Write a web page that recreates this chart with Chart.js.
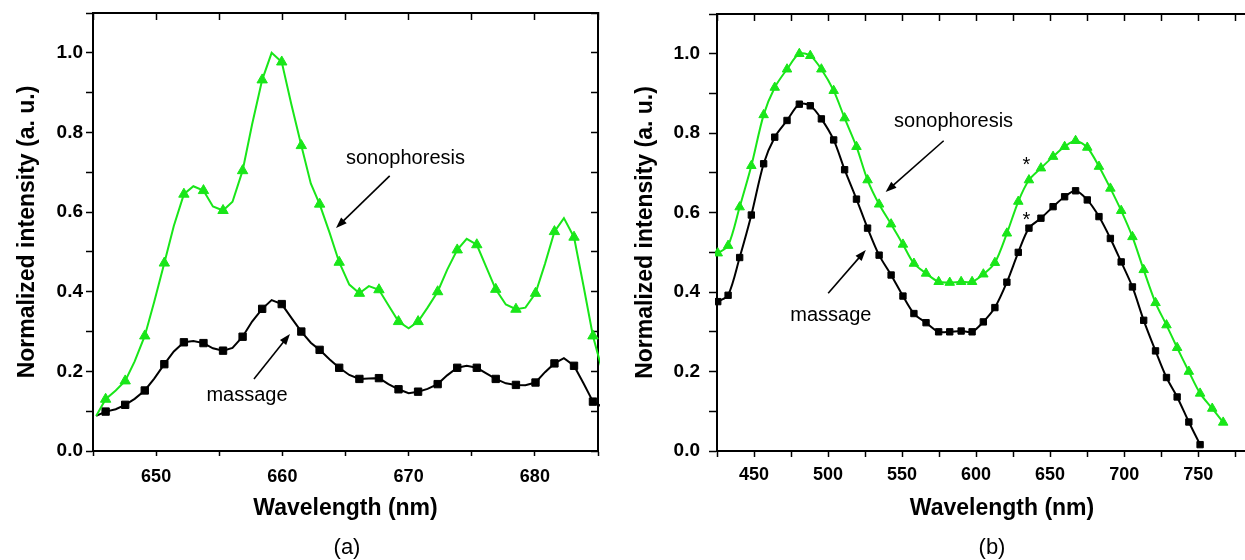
<!DOCTYPE html>
<html>
<head>
<meta charset="utf-8">
<script src="https://cdn.jsdelivr.net/npm/chart.js@4.4.1/dist/chart.umd.min.js"></script>
<style>
    body { margin: 0; width: 1245px; height: 560px; overflow: hidden; background: #fff; position: relative; font-family: 'Liberation Sans', Arial, sans-serif; }
    canvas { position: absolute; top: 0; }
    #chartA { left: 0; }
    #chartB { left: 620px; }
    .panel-tag { position: absolute; font-size: 22px; transform: translate(-50%, -50%); color: #000; }
</style>
</head>
<body>
<canvas id="chartA" width="620" height="560"></canvas>
<canvas id="chartB" width="690" height="560"></canvas>
<div class="panel-tag" style="left:347px; top:547px;">(a)</div>
<div class="panel-tag" style="left:992px; top:547px;">(b)</div>
<script>
// Panel (a): line vertices, a marker sits on every odd index
const wavelengthA = [645.25, 646.0, 646.8, 647.55, 648.3, 649.1, 649.85, 650.65, 651.4, 652.2,
    652.95, 653.75, 654.5, 655.3, 656.05, 656.85, 657.6, 658.4, 659.15, 659.95,
    660.7, 661.5, 662.25, 662.95, 663.75, 664.5, 665.3, 666.1, 666.85, 667.65,
    668.4, 669.2, 670.0, 670.75, 671.5, 672.3, 673.05, 673.85, 674.6, 675.4,
    676.15, 676.9, 677.7, 678.5, 679.25, 680.05, 680.8, 681.55, 682.3, 683.1,
    683.85, 684.6, 685.4];
const sonophoresisA = [0.088, 0.130, 0.152, 0.176, 0.225, 0.289, 0.375, 0.472, 0.565, 0.645,
    0.665, 0.654, 0.614, 0.604, 0.626, 0.704, 0.820, 0.932, 1.000, 0.977,
    0.872, 0.767, 0.672, 0.620, 0.547, 0.474, 0.418, 0.396, 0.414, 0.405,
    0.366, 0.325, 0.308, 0.325, 0.360, 0.400, 0.455, 0.505, 0.533, 0.518,
    0.462, 0.406, 0.368, 0.356, 0.360, 0.396, 0.470, 0.551, 0.585, 0.537,
    0.415, 0.289, 0.195];
const massageA = [0.088, 0.099, 0.105, 0.116, 0.131, 0.152, 0.182, 0.218, 0.250, 0.273,
    0.276, 0.271, 0.258, 0.252, 0.259, 0.287, 0.325, 0.357, 0.379, 0.369,
    0.335, 0.300, 0.272, 0.254, 0.230, 0.209, 0.191, 0.181, 0.182, 0.183,
    0.168, 0.155, 0.145, 0.149, 0.156, 0.168, 0.190, 0.209, 0.214, 0.209,
    0.195, 0.181, 0.170, 0.166, 0.165, 0.172, 0.198, 0.220, 0.233, 0.214,
    0.170, 0.124, 0.110];

// Panel (b)
const wavelengthB = [425.5, 432.5, 440.3, 448.2, 456.5, 464.0, 472.3, 480.6, 488.0, 495.5,
    503.8, 511.2, 519.2, 526.7, 534.5, 542.6, 550.6, 558.0, 566.2, 574.7,
    582.2, 589.9, 597.3, 604.9, 612.7, 620.8, 628.5, 635.7, 643.8, 652.0,
    659.8, 667.2, 675.1, 683.0, 690.7, 698.0, 705.6, 713.2, 721.2, 728.6,
    735.8, 743.7, 751.3, 759.5, 766.9];
const sonophoresisB = [0.498, 0.517, 0.614, 0.718, 0.846, 0.915, 0.961, 1.000, 0.995, 0.961,
    0.907, 0.838, 0.766, 0.682, 0.621, 0.571, 0.520, 0.472, 0.447, 0.426,
    0.424, 0.426, 0.426, 0.445, 0.474, 0.548, 0.628, 0.682, 0.712, 0.741,
    0.766, 0.781, 0.764, 0.716, 0.661, 0.605, 0.539, 0.456, 0.373, 0.317,
    0.260, 0.200, 0.145, 0.107, 0.072];
const massageB = [0.376, 0.392, 0.487, 0.594, 0.723, 0.790, 0.832, 0.873, 0.869, 0.836,
    0.783, 0.708, 0.634, 0.561, 0.493, 0.443, 0.390, 0.346, 0.323, 0.300,
    0.300, 0.302, 0.300, 0.325, 0.361, 0.425, 0.500, 0.561, 0.586, 0.615,
    0.640, 0.655, 0.632, 0.590, 0.535, 0.476, 0.413, 0.329, 0.252, 0.185,
    0.136, 0.073, 0.016];

const GREEN = '#19e619';
const FONT = "'Liberation Sans', Arial, sans-serif";
Chart.defaults.font.family = FONT;
Chart.defaults.color = '#000';

function toPoints(xs, ys) {
    return ys.map((y, i) => ({ x: xs[i], y: y }));
}

// texte + flèches d'annotation, positions en unités des axes
const notesPlugin = {
    id: 'notes',
    afterDatasetsDraw(chart, args, opts) {
        const ctx = chart.ctx;
        const xs = chart.scales.x;
        const ys = chart.scales.y;
        ctx.save();
        ctx.fillStyle = '#000';
        ctx.strokeStyle = '#000';
        (opts.texts || []).forEach(t => {
            ctx.font = '20px ' + FONT;
            ctx.textAlign = 'center';
            ctx.textBaseline = 'middle';
            ctx.fillText(t.text, xs.getPixelForValue(t.x), ys.getPixelForValue(t.y));
        });
        (opts.arrows || []).forEach(a => {
            const x1 = xs.getPixelForValue(a.from[0]), y1 = ys.getPixelForValue(a.from[1]);
            const x2 = xs.getPixelForValue(a.to[0]), y2 = ys.getPixelForValue(a.to[1]);
            const ang = Math.atan2(y2 - y1, x2 - x1);
            const c = Math.cos(ang), s = Math.sin(ang);
            const head = 11, half = 4;
            ctx.lineWidth = 1.6;
            ctx.beginPath();
            ctx.moveTo(x1, y1);
            ctx.lineTo(x2 - c * head * 0.8, y2 - s * head * 0.8);
            ctx.stroke();
            ctx.beginPath();
            ctx.moveTo(x2, y2);
            ctx.lineTo(x2 - c * head + s * half, y2 - s * head - c * half);
            ctx.lineTo(x2 - c * head - s * half, y2 - s * head + c * half);
            ctx.closePath();
            ctx.fill();
        });
        ctx.restore();
    }
};

// fixed box size, no extra padding from the tick labels
function fixBox(w, h) {
    return s => {
        if (w !== null) s.width = w;
        if (h !== null) s.height = h;
        s.paddingTop = 0; s.paddingBottom = 0;
        s.paddingLeft = 0; s.paddingRight = 0;
    };
}

function makeScales(p) {
    const border = { display: true, color: '#000', width: 2 };
    const tickFont = { size: 19, weight: 'bold' };
    const titleFont = { size: 23, weight: 'bold' };
    return {
        x: {
            type: 'linear', position: 'bottom', min: p.xMin, max: p.xMax,
            border: border,
            grid: { drawOnChartArea: false, tickLength: p.xTick, tickWidth: 1.5, tickColor: '#000' },
            ticks: {
                stepSize: p.xStep, includeBounds: false, autoSkip: false, maxRotation: 0,
                padding: p.xPad, color: '#000', font: { size: 18, weight: 'bold' },
                callback: v => (Math.round(v) % p.xLabelEvery === 0 ? String(Math.round(v)) : '')
            },
            title: { display: true, text: 'Wavelength (nm)', color: '#000', font: titleFont, padding: { top: 0, bottom: 38 } },
            afterFit: fixBox(null, 109)
        },
        x2: {
            type: 'linear', position: 'top', min: p.xMin, max: p.xMax,
            border: border,
            grid: { drawOnChartArea: false, tickLength: -7, tickWidth: 1.5, tickColor: '#000' },
            ticks: { display: false, stepSize: p.xStep, includeBounds: false, autoSkip: false },
            afterFit: fixBox(null, 0)
        },
        y: {
            type: 'linear', position: 'left', min: 0, max: 1.1,
            border: border,
            grid: { drawOnChartArea: false, tickLength: p.yTick, tickWidth: 1.5, tickColor: '#000' },
            ticks: {
                stepSize: 0.1, includeBounds: false, autoSkip: false,
                padding: p.yPad, color: '#000', font: tickFont,
                callback: v => {
                    const k = Math.round(v * 10);
                    return (k % 2 === 0 && k <= 10) ? (k / 10).toFixed(1) : '';
                }
            },
            title: { display: true, text: 'Normalized intensity (a. u.)', color: '#000', font: titleFont, padding: { top: p.yTitlePad, bottom: 0 } },
            afterFit: fixBox(p.yWidth, null)
        },
        y2: {
            type: 'linear', position: 'right', min: 0, max: 1.1,
            border: border,
            grid: { drawOnChartArea: false, tickLength: -7, tickWidth: 1.5, tickColor: '#000' },
            ticks: { display: false, stepSize: 0.1, includeBounds: false, autoSkip: false },
            afterFit: fixBox(0, null)
        }
    };
}

// Panel (a)
new Chart(document.getElementById('chartA'), {
    type: 'line',
    data: {
        datasets: [{
            data: toPoints(wavelengthA, sonophoresisA),
            borderColor: GREEN, backgroundColor: GREEN, borderWidth: 2,
            pointStyle: 'triangle', pointBorderColor: GREEN, pointBorderWidth: 1,
            pointRadius: ctx => (ctx.dataIndex % 2 === 1 ? 6 : 0),
            tension: 0, clip: 2
        }, {
            data: toPoints(wavelengthA, massageA),
            borderColor: '#000', backgroundColor: '#000', borderWidth: 2,
            pointStyle: 'rect', pointBorderColor: '#000', pointBorderWidth: 1,
            pointRadius: ctx => (ctx.dataIndex % 2 === 1 ? 5.2 : 0),
            tension: 0, clip: 2
        }]
    },
    options: {
        responsive: false, animation: false,
        layout: { padding: { left: 0, top: 13, right: 22, bottom: 0 } },
        plugins: {
            legend: { display: false }, tooltip: { enabled: false },
            notes: {
                texts: [
                    { text: 'sonophoresis', x: 669.75, y: 0.734 },
                    { text: 'massage', x: 657.2, y: 0.139 }
                ],
                arrows: [
                    { from: [668.5, 0.691], to: [664.25, 0.560] },
                    { from: [657.75, 0.181], to: [660.6, 0.294] }
                ]
            }
        },
        scales: makeScales({ xMin: 645, xMax: 685, xStep: 5, xLabelEvery: 10, xTick: 5, xPad: 10,
            yTick: 7, yPad: 3, yWidth: 93, yTitlePad: 14 })
    },
    plugins: [notesPlugin]
});

// Panel (b) — its right edge lies past the window, as in the picture
new Chart(document.getElementById('chartB'), {
    type: 'line',
    data: {
        datasets: [{
            data: toPoints(wavelengthB, sonophoresisB),
            borderColor: GREEN, backgroundColor: GREEN, borderWidth: 2,
            pointStyle: 'triangle', pointBorderColor: GREEN, pointBorderWidth: 1,
            pointRadius: 5.5, tension: 0.3, clip: 2
        }, {
            data: toPoints(wavelengthB, massageB),
            borderColor: '#000', backgroundColor: '#000', borderWidth: 2,
            pointStyle: 'rect', pointBorderColor: '#000', pointBorderWidth: 1,
            pointRadius: 4.5, tension: 0.3, clip: 2
        }]
    },
    options: {
        responsive: false, animation: false,
        layout: { padding: { left: 0, top: 14, right: 23, bottom: 0 } },
        plugins: {
            legend: { display: false }, tooltip: { enabled: false },
            notes: {
                texts: [
                    { text: 'sonophoresis', x: 584.8, y: 0.829 },
                    { text: 'massage', x: 501.9, y: 0.341 },
                    { text: '*', x: 634, y: 0.718 },
                    { text: '*', x: 634, y: 0.579 }
                ],
                arrows: [
                    { from: [578.1, 0.781], to: [538.9, 0.652] },
                    { from: [500.1, 0.397], to: [525.5, 0.506] }
                ]
            }
        },
        scales: makeScales({ xMin: 425, xMax: 810, xStep: 25, xLabelEvery: 50, xTick: 6, xPad: 7,
            yTick: 8, yPad: 9, yWidth: 97, yTitlePad: 12 })
    },
    plugins: [notesPlugin]
});
</script>
</body>
</html>
